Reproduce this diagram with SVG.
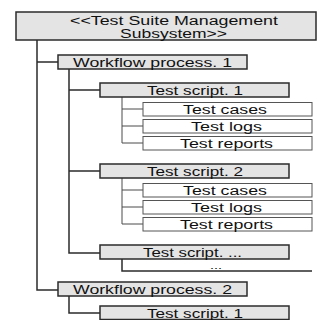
<svg xmlns="http://www.w3.org/2000/svg" width="320" height="320" viewBox="0 0 320 320">
  <style>
    .grp { fill: #e4e4e4; stroke: #2b2b2b; stroke-width: 1.5; }
    .leaf { fill: #ffffff; stroke: #555555; stroke-width: 1; }
    .lbl { font-family: "Liberation Sans", Arial, sans-serif; font-size: 12.5px; fill: #111111; }
    .more { font-family: "Liberation Sans", Arial, sans-serif; font-size: 9px; fill: #111111; }
    .main { fill: none; stroke: #2b2b2b; stroke-width: 1.5; }
    .sub { fill: none; stroke: #4a4a4a; stroke-width: 1; }
  </style>
  <rect width="320" height="320" fill="#ffffff"/>

  <!-- connectors -->
  <g id="connectors">
    <!-- subsystem to workflow processes -->
    <path class="main" d="M37 40 V290 H58 M37 62 H58"/>
    <!-- workflow process 1 to its scripts -->
    <path class="main" d="M69 69 V253 H100 M69 90 H100 M69 171 H100"/>
    <!-- workflow process 2 to its script -->
    <path class="main" d="M69 296 V313 H100"/>
    <!-- script 1 artifacts -->
    <path class="sub" d="M122 97 V143 H143 M122 109 H143 M122 126 H143"/>
    <!-- script 2 artifacts -->
    <path class="sub" d="M122 178 V224 H143 M122 190 H143 M122 207 H143"/>
    <!-- script ... continuation -->
    <path class="main" d="M122 259 V271 H312"/>
  </g>

  <g id="subsystem">
    <rect class="grp" x="16" y="12" width="300" height="28"/>
    <text class="lbl" x="70" y="24.5" textLength="208" lengthAdjust="spacingAndGlyphs">&lt;&lt;Test Suite Management</text>
    <text class="lbl" x="120" y="37.5" textLength="107" lengthAdjust="spacingAndGlyphs">Subsystem&gt;&gt;</text>
  </g>

  <g id="workflow1">
    <rect class="grp" x="58" y="55" width="189" height="14"/>
    <text class="lbl" x="73" y="67" textLength="159" lengthAdjust="spacingAndGlyphs">Workflow process. 1</text>
  </g>

  <g id="script1">
    <rect class="grp" x="100" y="83" width="189" height="14"/>
    <text class="lbl" x="147" y="95" textLength="96" lengthAdjust="spacingAndGlyphs">Test script. 1</text>
  </g>
  <g id="script1-cases">
    <rect class="leaf" x="143" y="102.5" width="169" height="13.5"/>
    <text class="lbl" x="183" y="114" textLength="84" lengthAdjust="spacingAndGlyphs">Test cases</text>
  </g>
  <g id="script1-logs">
    <rect class="leaf" x="143" y="119.5" width="169" height="13.5"/>
    <text class="lbl" x="191" y="131" textLength="71" lengthAdjust="spacingAndGlyphs">Test logs</text>
  </g>
  <g id="script1-reports">
    <rect class="leaf" x="143" y="136.5" width="169" height="13.5"/>
    <text class="lbl" x="180" y="148" textLength="93" lengthAdjust="spacingAndGlyphs">Test reports</text>
  </g>

  <g id="script2">
    <rect class="grp" x="100" y="164" width="189" height="14"/>
    <text class="lbl" x="147" y="176" textLength="96" lengthAdjust="spacingAndGlyphs">Test script. 2</text>
  </g>
  <g id="script2-cases">
    <rect class="leaf" x="143" y="183.5" width="169" height="13.5"/>
    <text class="lbl" x="183" y="195" textLength="84" lengthAdjust="spacingAndGlyphs">Test cases</text>
  </g>
  <g id="script2-logs">
    <rect class="leaf" x="143" y="200.5" width="169" height="13.5"/>
    <text class="lbl" x="191" y="212" textLength="71" lengthAdjust="spacingAndGlyphs">Test logs</text>
  </g>
  <g id="script2-reports">
    <rect class="leaf" x="143" y="217.5" width="169" height="13.5"/>
    <text class="lbl" x="180" y="229" textLength="93" lengthAdjust="spacingAndGlyphs">Test reports</text>
  </g>

  <g id="script-more">
    <rect class="grp" x="100" y="245" width="189" height="14"/>
    <text class="lbl" x="143" y="257" textLength="99" lengthAdjust="spacingAndGlyphs">Test script. ...</text>
    <text class="more" x="210" y="268.5" textLength="12" lengthAdjust="spacingAndGlyphs">...</text>
  </g>

  <g id="workflow2">
    <rect class="grp" x="58" y="282" width="189" height="14"/>
    <text class="lbl" x="73" y="294" textLength="159" lengthAdjust="spacingAndGlyphs">Workflow process. 2</text>
  </g>

  <g id="workflow2-script1">
    <rect class="grp" x="100" y="306" width="189" height="13.5"/>
    <text class="lbl" x="147" y="318" textLength="96" lengthAdjust="spacingAndGlyphs">Test script. 1</text>
  </g>
</svg>
